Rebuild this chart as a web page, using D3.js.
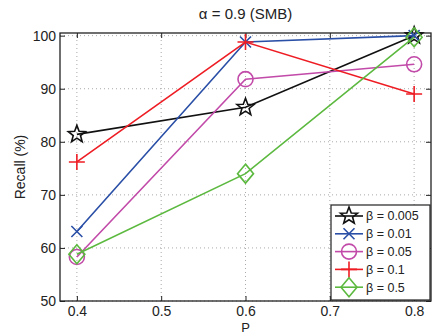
<!DOCTYPE html>
<html>
<head>
<meta charset="utf-8">
<script src="https://cdn.jsdelivr.net/npm/d3@7"></script>
<style>
  body { margin: 0; background: #fff; }
  text { font-family: "Liberation Sans", Arial, Helvetica, sans-serif; fill: #222; }
</style>
</head>
<body>
<svg id="chart" width="438" height="335"></svg>
<script>
// data
const pValues = [0.4, 0.6, 0.8];
const xTicks = [0.4, 0.5, 0.6, 0.7, 0.8];
const yTicks = [50, 60, 70, 80, 90, 100];
const betaLabels = ["β = 0.005", "β = 0.01", "β = 0.05", "β = 0.1", "β = 0.5"];
const recall005 = [81.4, 86.5, 100];
const recall01 = [63.1, 98.8, 100];
const recall05 = [58.3, 91.8, 94.6];
const recall1 = [76.2, 98.8, 89.0];
const recall5 = [58.8, 74.0, 99.7];

const colors = ["#111111", "#2a4fa6", "#c24aa9", "#ee1d24", "#5cb93f"];
const markers = ["star", "x", "circle", "plus", "diamond"];

const series = [recall005, recall01, recall05, recall1, recall5].map((vals, i) => ({
  label: betaLabels[i],
  color: colors[i],
  marker: markers[i],
  values: vals.map((v, j) => ({ p: pValues[j], r: v }))
}));

const svg = d3.select("#chart");
const width = 438, height = 335;
const margin = { top: 33, right: 7, bottom: 34, left: 60 };

const x = d3.scaleLinear()
  .domain([0.38, 0.82])
  .range([margin.left, width - margin.right]);

const y = d3.scaleLinear()
  .domain([50, 100.5])
  .range([height - margin.bottom, margin.top]);

const x0 = margin.left, x1 = width - margin.right;
const y0 = height - margin.bottom, y1 = margin.top;

// grid
const grid = svg.append("g");
grid.selectAll(".gx")
  .data(xTicks)
  .join("line")
  .attr("x1", d => x(d)).attr("x2", d => x(d))
  .attr("y1", y0).attr("y2", y1)
  .attr("stroke", "#aaa").attr("stroke-width", 1)
  .attr("stroke-dasharray", "1,3");
grid.selectAll(".gy")
  .data(yTicks)
  .join("line")
  .attr("y1", d => y(d)).attr("y2", d => y(d))
  .attr("x1", x0).attr("x2", x1)
  .attr("stroke", "#aaa").attr("stroke-width", 1)
  .attr("stroke-dasharray", "1,3");

// axes (ticks inside)
const axisFont = "14px";
const bottomAxis = svg.append("g")
  .attr("transform", `translate(0,${y0})`)
  .call(d3.axisBottom(x).tickValues(xTicks).tickSize(-5).tickPadding(5).tickFormat(d3.format(".1f")));
const leftAxis = svg.append("g")
  .attr("transform", `translate(${x0},0)`)
  .call(d3.axisLeft(y).tickValues(yTicks).tickSize(-5).tickPadding(4));
const topAxis = svg.append("g")
  .attr("transform", `translate(0,${y1})`)
  .call(d3.axisTop(x).tickValues(xTicks).tickSize(-5).tickFormat(""));
const rightAxis = svg.append("g")
  .attr("transform", `translate(${x1},0)`)
  .call(d3.axisRight(y).tickValues(yTicks).tickSize(-5).tickFormat(""));

[bottomAxis, leftAxis, topAxis, rightAxis].forEach(g => {
  g.select(".domain").remove();
  g.selectAll("line").attr("stroke", "#222");
  g.selectAll("text").style("font-size", axisFont).attr("fill", "#222");
});

// frame
svg.append("rect")
  .attr("x", x0).attr("y", y1)
  .attr("width", x1 - x0).attr("height", y0 - y1)
  .attr("fill", "none").attr("stroke", "#222").attr("stroke-width", 1.3);

// markers
const starPath = (() => {
  const pts = [];
  for (let k = 0; k < 10; k++) {
    const a = -Math.PI / 2 + k * Math.PI / 5;
    const r = k % 2 === 0 ? 9 : 3.8;
    pts.push([r * Math.cos(a), r * Math.sin(a)]);
  }
  return "M" + pts.map(p => p.join(",")).join("L") + "Z";
})();

function markerPath(type) {
  switch (type) {
    case "star": return starPath;
    case "x": return "M-5.5,-5.5L5.5,5.5M-5.5,5.5L5.5,-5.5";
    case "circle": return "M7.5,0A7.5,7.5 0 1,1 -7.5,0A7.5,7.5 0 1,1 7.5,0Z";
    case "plus": return "M-8,0L8,0M0,-8L0,8";
    case "diamond": return "M0,-9.5L8,0L0,9.5L-8,0Z";
  }
}

const line = d3.line().x(d => x(d.p)).y(d => y(d.r));

series.forEach(s => {
  svg.append("path")
    .datum(s.values)
    .attr("d", line)
    .attr("fill", "none")
    .attr("stroke", s.color)
    .attr("stroke-width", 1.6);
  svg.selectAll(null)
    .data(s.values)
    .join("path")
    .attr("transform", d => `translate(${x(d.p)},${y(d.r)})`)
    .attr("d", markerPath(s.marker))
    .attr("fill", "none")
    .attr("stroke", s.color)
    .attr("stroke-width", 1.6);
});

// legend
const lg = svg.append("g");
lg.append("rect")
  .attr("x", 331).attr("y", 205)
  .attr("width", 99).attr("height", 95)
  .attr("fill", "#fff").attr("stroke", "#222").attr("stroke-width", 1.2);
series.forEach((s, i) => {
  const ly = 216 + i * 17.8;
  lg.append("line")
    .attr("x1", 335).attr("x2", 363)
    .attr("y1", ly).attr("y2", ly)
    .attr("stroke", s.color).attr("stroke-width", 1.6);
  lg.append("path")
    .attr("transform", `translate(349,${ly})`)
    .attr("d", markerPath(s.marker))
    .attr("fill", "none")
    .attr("stroke", s.color).attr("stroke-width", 1.6);
  lg.append("text")
    .attr("x", 366).attr("y", ly)
    .attr("dy", "0.35em")
    .style("font-size", "12.5px")
    .text(s.label);
});

// title and axis labels
svg.append("text")
  .attr("x", (x0 + x1) / 2).attr("y", 19)
  .attr("text-anchor", "middle")
  .style("font-size", "15px")
  .text("α = 0.9 (SMB)");

svg.append("text")
  .attr("x", (x0 + x1) / 2).attr("y", 332)
  .attr("text-anchor", "middle")
  .style("font-size", "13px")
  .text("P");

svg.append("text")
  .attr("transform", "rotate(-90)")
  .attr("x", -(y0 + y1) / 2).attr("y", 25)
  .attr("text-anchor", "middle")
  .style("font-size", "14px")
  .text("Recall (%)");
</script>
</body>
</html>
